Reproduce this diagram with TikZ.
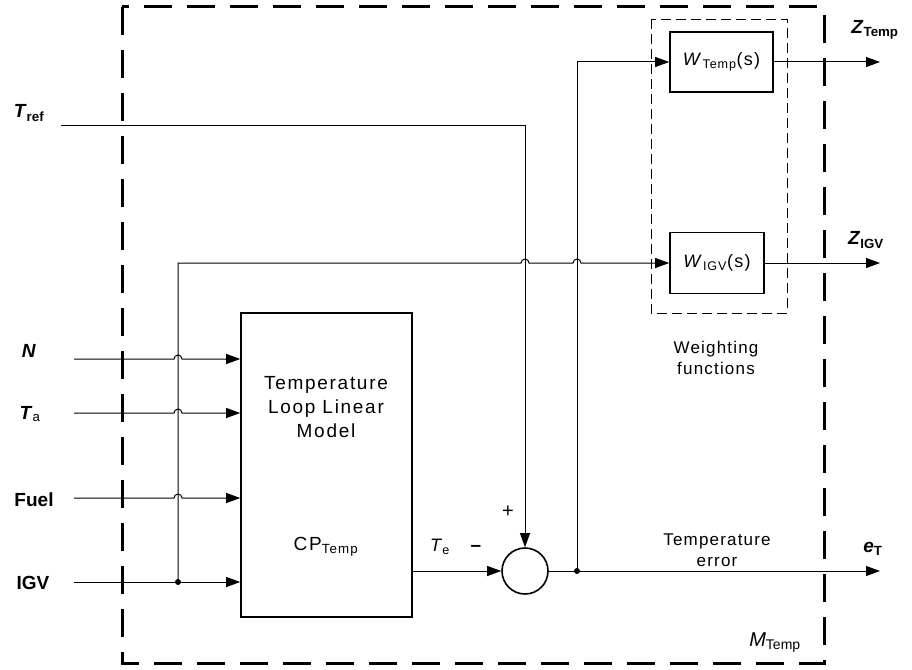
\documentclass[tikz,border=0pt]{standalone}
\usepackage{fontspec}
\setmainfont{Liberation Sans}
\newfontfamily\spacedbig[LetterSpace=9]{Liberation Sans}
\newfontfamily\spacedsm[LetterSpace=7]{Liberation Sans}
\usetikzlibrary{arrows.meta,calc,positioning}
\begin{document}
\begin{tikzpicture}[x=1pt,y=-1pt,>={Triangle[length=14pt,width=10pt]},line width=1pt,
	blk/.style={draw,line width=1.6pt,inner sep=0pt},
	boxtxt/.style={font=\fontsize{19}{24}\selectfont\spacedbig,align=center},
	txt/.style={font=\fontsize{17}{21.5}\selectfont\spacedsm,align=center},
	io/.style={font=\fontsize{19}{23}\selectfont\bfseries,inner sep=0pt}]
	\useasboundingbox (0,0) rectangle (912,669);
	% frames
	\draw[line width=3pt,dash pattern=on 28pt off 15pt] (122,7) rectangle (824,663);
	\draw[line width=0.9pt,dash pattern=on 10pt off 5pt] (651,19) rectangle (787,313);
	% blocks
	\node[blk,minimum width=171,minimum height=304] (model) at (326.5,465) {};
	\node[boxtxt] (modeltxt) at (326,407) {Temperature\\Loop Linear\\Model};
	\node[boxtxt] (cp) at (326,547) {CP\textsubscript{Temp}};
	\node[blk,minimum width=103,minimum height=60,font=\fontsize{18}{22}\selectfont\spacedsm] (wtemp) at (721.5,62) {\textit{W}\textsubscript{Temp}(s)};
	\node[blk,minimum width=94,minimum height=61,font=\fontsize{18}{22}\selectfont\spacedsm] (wigv) at (717,263) {\textit{W}\textsubscript{IGV}(s)};
	\node[draw,circle,line width=1.6pt,minimum size=46] (sum) at (525,571) {};
	\coordinate (br) at (577,571);
	\coordinate (vx) at (178,582);
	% signal ends
	\coordinate (tref) at (61,125);
	\coordinate (inN) at (74,359);
	\coordinate (inTa) at (74,413);
	\coordinate (inF) at (74,498);
	\coordinate (inIGV) at (74,582);
	\coordinate (outT) at (880,62);
	\coordinate (outI) at (880,263);
	\coordinate (outE) at (880,571);
	% inputs
	\foreach \i in {inN,inTa,inF}
		\draw[->] (\i) -- ($(\i -| vx)+(-4,0)$) arc[start angle=180,end angle=360,radius=4] -- (\i -| model.west);
	\draw[->] (inIGV) -- (inIGV -| model.west);
	\fill (vx) circle (3);
	\draw[->] (vx) -- (vx |- wigv) -- ($(sum |- wigv)+(-4,0)$) arc[start angle=180,end angle=360,radius=4]
		-- ($(br |- wigv)+(-4,0)$) arc[start angle=180,end angle=360,radius=4] -- (wigv.west);
	\draw[->] (tref) -| (sum.north);
	\draw[->] (model.east |- sum) -- (sum.west);
	\draw[->] (sum.east) -- (outE);
	\fill (br) circle (3);
	\draw[->] (br) |- (wtemp.west);
	\draw[->] (wtemp.east) -- (outT);
	\draw[->] (wigv.east) -- (outI);
	% labels
	\node[io] (lTref) at (29,113) {\textit{T}\textsubscript{ref}};
	\node[io] (lN) at (29,351) {\textit{N}};
	\node[io] (lTa) at (30,414) {\textit{T}\textsubscript{\mdseries a}};
	\node[io] (lFuel) at (34,500) {Fuel};
	\node[io] (lIGV) at (33,583) {IGV};
	\node[io] (lZT) at (875,30) {\textit{Z}\textsubscript{Temp}};
	\node[io] (lZI) at (866,240) {\textit{Z}\textsubscript{IGV}};
	\node[io] (lE) at (873,549) {\textit{e}\textsubscript{T}};
	\node[txt,font=\fontsize{20}{24}\selectfont] (lM) at (775,643) {\textit{M}\textsubscript{Temp}};
	\node[txt,font=\fontsize{18}{22}\selectfont] (lTe) at (440,547) {\textit{T}\textsubscript{e}};
	\node[io] (lminus) at (476,548) {\textendash};
	\node[txt,font=\fontsize{20}{24}\selectfont] (lplus) at (508,512) {+};
	\node[txt] (lwf) at (716,358) {Weighting\\functions};
	\node[txt] (lerr) at (717,550) {Temperature\\error};
\end{tikzpicture}
\end{document}
